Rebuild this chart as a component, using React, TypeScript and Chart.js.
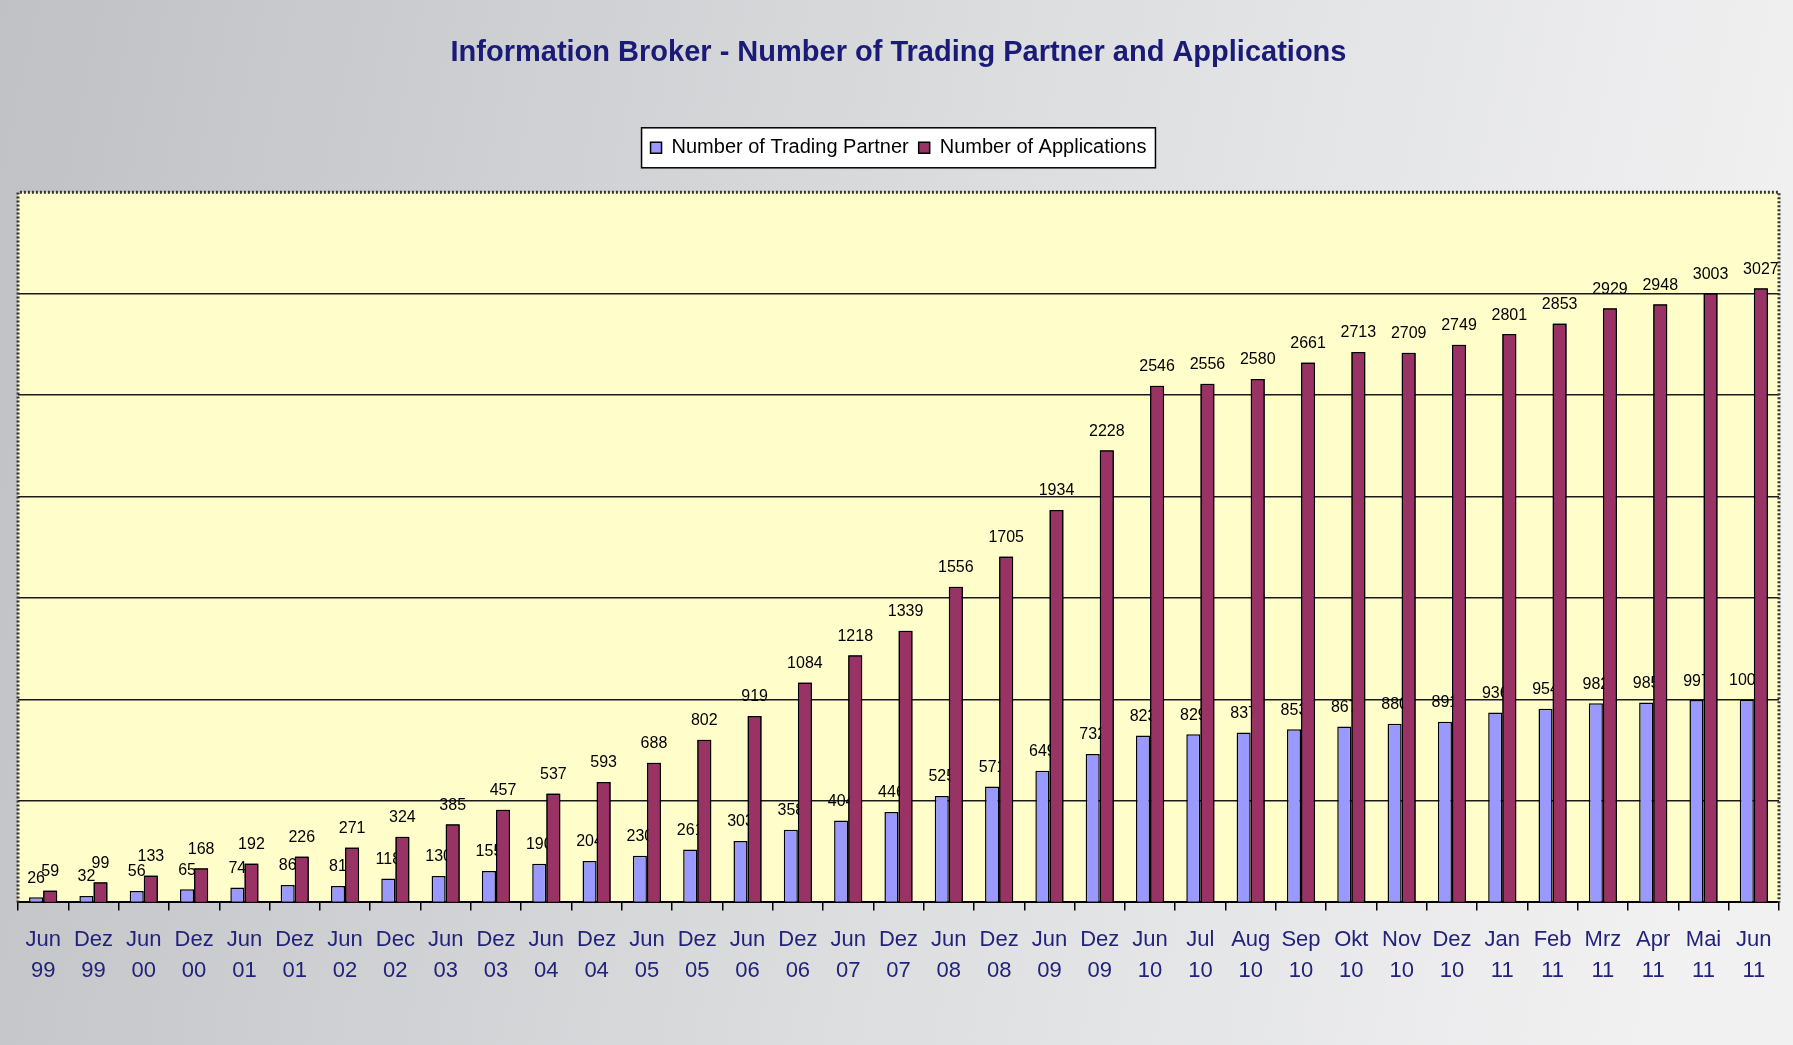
import React, { useEffect, useRef } from 'react';
import { Chart, registerables } from 'chart.js';

Chart.register(...registerables);

const chartTitle = 'Information Broker - Number of Trading Partner and Applications';
const seriesNames = ['Number of Trading Partner', 'Number of Applications'];

const months = [
  'Jun', 'Dez', 'Jun', 'Dez', 'Jun', 'Dez', 'Jun', 'Dec', 'Jun', 'Dez', 'Jun', 'Dez',
  'Jun', 'Dez', 'Jun', 'Dez', 'Jun', 'Dez', 'Jun', 'Dez', 'Jun', 'Dez', 'Jun', 'Jul',
  'Aug', 'Sep', 'Okt', 'Nov', 'Dez', 'Jan', 'Feb', 'Mrz', 'Apr', 'Mai', 'Jun',
];
const years = [
  '99', '99', '00', '00', '01', '01', '02', '02', '03', '03', '04', '04',
  '05', '05', '06', '06', '07', '07', '08', '08', '09', '09', '10', '10',
  '10', '10', '10', '10', '10', '11', '11', '11', '11', '11', '11',
];
const tradingPartners = [
  26, 32, 56, 65, 74, 86, 81, 118, 130, 155, 190, 204,
  230, 261, 303, 358, 404, 446, 525, 571, 649, 732, 823, 829,
  837, 853, 867, 880, 891, 936, 954, 982, 985, 997, 1000,
];
const applications = [
  59, 99, 133, 168, 192, 226, 271, 324, 385, 457, 537, 593,
  688, 802, 919, 1084, 1218, 1339, 1556, 1705, 1934, 2228, 2546, 2556,
  2580, 2661, 2713, 2709, 2749, 2801, 2853, 2929, 2948, 3003, 3027,
];
const yMin = 0;
const yMax = 3500;
const yStep = 500;

const FONT = '"Liberation Sans", Arial, sans-serif';

const decorPlugin = {
  id: 'decor',
  beforeDraw(chart: any) {
    const { ctx, width, height, chartArea: a } = chart;
    ctx.save();
    const g = ctx.createLinearGradient(0, 0, width, height * 0.35);
    g.addColorStop(0, '#bfc1c4');
    g.addColorStop(0.55, '#dcdddf');
    g.addColorStop(1, '#f1f1f2');
    ctx.fillStyle = g;
    ctx.fillRect(0, 0, width, height);
    ctx.fillStyle = '#fffecb';
    ctx.fillRect(a.left, a.top, a.right - a.left, a.bottom - a.top);
    ctx.restore();
  },
  afterDatasetsDraw(chart: any) {
    const { ctx, chartArea: a } = chart;
    const m0 = chart.getDatasetMeta(0);
    const m1 = chart.getDatasetMeta(1);
    const setFont = () => {
      ctx.font = '16px ' + FONT;
      ctx.fillStyle = '#000';
      ctx.textAlign = 'center';
      ctx.textBaseline = 'middle';
    };
    ctx.save();
    setFont();
    m0.data.forEach((el: any, i: number) => ctx.fillText(String(tradingPartners[i]), el.x, el.y - 19));
    ctx.restore();
    m1.data.forEach((el: any) => el.draw(ctx));
    ctx.save();
    setFont();
    m1.data.forEach((el: any, i: number) => ctx.fillText(String(applications[i]), el.x, el.y - 19));
    // plot frame (top, left, right)
    ctx.strokeStyle = '#333';
    ctx.lineWidth = 3;
    ctx.setLineDash([2, 2]);
    ctx.beginPath();
    ctx.moveTo(a.left, a.bottom);
    ctx.lineTo(a.left, a.top);
    ctx.lineTo(a.right, a.top);
    ctx.lineTo(a.right, a.bottom);
    ctx.stroke();
    ctx.restore();
  },
  afterDraw(chart: any) {
    const { ctx } = chart;
    const lg = chart.legend;
    if (!lg || !lg.legendHitBoxes || !lg.legendHitBoxes.length) return;
    const hb = lg.legendHitBoxes;
    const l = Math.min(...hb.map((h: any) => h.left)) - 9;
    const r = Math.max(...hb.map((h: any) => h.left + h.width)) + 9;
    const t = Math.min(...hb.map((h: any) => h.top)) - 10;
    const b = Math.max(...hb.map((h: any) => h.top + h.height)) + 10;
    ctx.save();
    ctx.fillStyle = '#ffffff';
    ctx.fillRect(l, t, r - l, b - t);
    ctx.strokeStyle = '#000';
    ctx.lineWidth = 1.5;
    ctx.strokeRect(l, t, r - l, b - t);
    ctx.restore();
    lg.draw();
  },
};

export default function App() {
  const ref = useRef<HTMLCanvasElement | null>(null);

  useEffect(() => {
    if (!ref.current) return;
    const chart = new Chart(ref.current, {
      type: 'bar',
      data: {
        labels: months.map((m, i) => [m, years[i]]),
        datasets: [
          {
            label: seriesNames[0],
            data: tradingPartners,
            backgroundColor: '#9999ff',
            borderColor: '#000000',
            borderWidth: 1.5,
            categoryPercentage: 0.56,
            barPercentage: 1,
          },
          {
            label: seriesNames[1],
            data: applications,
            backgroundColor: '#993366',
            borderColor: '#000000',
            borderWidth: 1.5,
            categoryPercentage: 0.56,
            barPercentage: 1,
          },
        ],
      },
      options: {
        responsive: false,
        animation: false,
        layout: { padding: { top: 0, left: 18, right: 14, bottom: 45 } },
        plugins: {
          title: {
            display: true,
            text: chartTitle,
            color: '#1a1a78',
            font: { family: FONT, size: 29, weight: 'bold', lineHeight: 1.2 },
            padding: { top: 36, bottom: 57 },
          },
          subtitle: {
            display: true,
            text: ' ',
            weight: 500,
            font: { size: 10, lineHeight: 1 },
            padding: { top: 14.5, bottom: 0 },
          },
          legend: {
            display: true,
            position: 'top',
            labels: {
              color: '#000',
              font: { family: FONT, size: 20 },
              boxWidth: 11,
              boxHeight: 11,
              padding: 10,
            },
          },
          tooltip: { enabled: false },
        },
        scales: {
          x: {
            grid: {
              display: true,
              drawOnChartArea: false,
              drawTicks: true,
              tickLength: 8,
              color: '#000',
              lineWidth: 1.5,
            },
            border: { display: true, color: '#000', width: 2 },
            ticks: {
              color: '#22227a',
              font: { family: FONT, size: 22, lineHeight: 1.4 },
              padding: 14,
              maxRotation: 0,
              autoSkip: false,
            },
          },
          y: {
            min: yMin,
            max: yMax,
            ticks: { display: false, stepSize: yStep },
            grid: {
              drawTicks: false,
              color: (c: any) =>
                c.tick && (c.tick.value === yMin || c.tick.value === yMax) ? 'rgba(0,0,0,0)' : '#1a1a1a',
              lineWidth: 1.5,
            },
            border: { display: false },
          },
        },
      },
      plugins: [decorPlugin],
    } as any);
    return () => chart.destroy();
  }, []);

  return (
    <div style={{ position: 'absolute', left: 0, top: 0, width: 1793, height: 1045 }}>
      <canvas ref={ref} width={1793} height={1045} style={{ display: 'block' }} />
    </div>
  );
}
